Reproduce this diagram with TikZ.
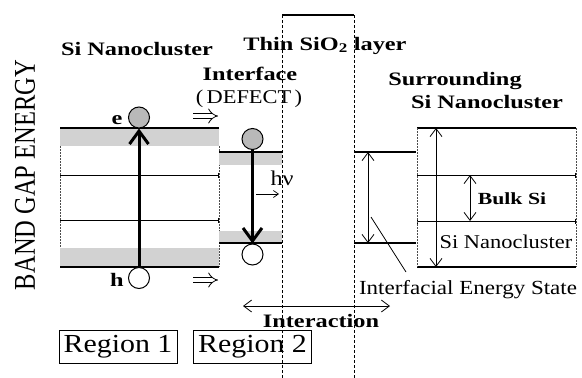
\documentclass[tikz,border=0pt]{standalone}
\usepackage{fontspec}
\setmainfont{Liberation Serif}
\newfontfamily\tbf[FakeStretch=1.28]{Liberation Serif}
\newfontfamily\treg[FakeStretch=1.15]{Liberation Serif}
\usetikzlibrary{arrows.meta}
\begin{document}
\begin{tikzpicture}[x=1pt,y=-1pt,
  title/.style={font=\tbf\bfseries\fontsize{19}{22}\selectfont, inner sep=0pt, anchor=base},
  plain/.style={font=\treg\fontsize{19.5}{22}\selectfont, inner sep=0pt, anchor=base},
  thickline/.style={line width=2pt},
  thinline/.style={line width=0.8pt},
  level/.style={line width=0.8pt, {Bar[width=5pt]}-{Bar[width=5pt]}},
  band/.style={fill=gray!35, draw=none},
  boxedge/.style={line width=0.6pt, black!70, dash pattern=on 1.5pt off 1.5pt},
  oxide/.style={line width=0.7pt, dash pattern=on 3pt off 2pt},
  elec/.style={circle, draw, line width=1pt, fill=gray!55, minimum size=21pt, inner sep=0pt},
  hole/.style={circle, draw, line width=1pt, fill=white, minimum size=21pt, inner sep=0pt},
  trans/.style={line width=3pt, -{Straight Barb[length=13pt,width=19pt]}},
  dimarrow/.style={line width=0.8pt, {Straight Barb[length=8pt,width=12pt]}-{Straight Barb[length=8pt,width=12pt]}},
  implies/.style={double, double distance=4.5pt, line width=0.8pt, -{Implies}},
  regionbox/.style={draw, line width=1pt, minimum width=118pt, minimum height=33pt, inner sep=0pt, font=\treg\fontsize{26}{28}\selectfont}
]
\useasboundingbox (0,0) rectangle (582,378);

% ---- Region 1 (Si nanocluster) ----
\fill[band] (60,128) rectangle (219,146);
\fill[band] (60,248) rectangle (219,267);
\draw[thickline] (60,128) -- (219,128);
\draw[thickline] (60,267) -- (219,267);
\draw[level] (60,175) -- (219,175);
\draw[level] (60,220) -- (219,220);
\draw[boxedge] (60,146) -- (60,248);
\draw[boxedge] (219,146) -- (219,267);

% ---- Region 2 (interface) ----
\fill[band] (219,152) rectangle (282,165);
\fill[band] (219,231) rectangle (282,243);
\draw[thickline] (219,152) -- (282,152);
\draw[thickline] (219,243) -- (282,243);

% ---- SiO2 layer ----
\draw[oxide] (282,378) -- (282,15);
\draw[thickline] (282,15) -- (354,15);
\draw[oxide] (354,15) -- (354,378);

% ---- interfacial energy states ----
\draw[thickline] (354,152) -- (416,152);
\draw[thickline] (354,243) -- (416,243);

% ---- surrounding Si nanocluster ----
\draw[thickline] (417,128) -- (576,128);
\draw[thickline] (417,267) -- (576,267);
\draw[level] (417,175) -- (576,175);
\draw[level] (417,221) -- (576,221);
\draw[boxedge] (417,128) -- (417,267);
\draw[boxedge] (576,128) -- (576,267);

% ---- carriers ----
\node[elec] (e1) at (139,117.5) {};
\node[hole] (h1) at (139,278) {};
\node[elec] (e2) at (252.5,139) {};
\node[hole] (h2) at (252.5,254.5) {};
\draw[trans] (h1.north) -- (e1.south);
\draw[trans] (e2.south) -- (h2.north);

\node[title] (elab) at (117,124) {e};
\node[title] (hlab) at (117,286) {h};

% ---- implies arrows ----
\coordinate (i1s) at (193,116);
\coordinate (i1e) at (218,116);
\coordinate (i2s) at (193,280);
\coordinate (i2e) at (218,280);
\draw[implies] (i1s) -- (i1e);
\draw[implies] (i2s) -- (i2e);

% ---- photon ----
\node[plain, font=\treg\fontsize{21}{24}\selectfont] (hnu) at (282,185) {hν};
\coordinate (pa) at (256,194);
\coordinate (pb) at (279,194);
\draw[line width=0.7pt, -{Straight Barb[length=5pt,width=7pt]}] (pa) -- (pb);

% ---- dimension arrows ----
\coordinate (r1t) at (368,152);
\coordinate (r1b) at (368,243);
\coordinate (r2t) at (436,128);
\coordinate (r2b) at (436,267);
\coordinate (r3t) at (470,175);
\coordinate (r3b) at (470,221);
\draw[dimarrow] (r1t) -- (r1b);
\draw[dimarrow] (r2t) -- (r2b);
\draw[dimarrow] (r3t) -- (r3b);

\coordinate (d1) at (371,217);
\coordinate (d2) at (406,272);
\draw[thinline] (d1) -- (d2);

\coordinate (ia) at (243,306);
\coordinate (ib) at (390,306);
\draw[dimarrow] (ia) -- (ib);

% ---- texts ----
\node[title] (t1) at (137,55) {Si Nanocluster};
\node[title] (t2) at (325,50) {Thin SiO\textsubscript{2} layer};
\node[title] (t3) at (250,80) {Interface};
\node[plain] (t4) at (249,103) {(\,DEFECT\,)};
\node[title] (t5) at (455,85) {Surrounding};
\node[title] (t6) at (487,108) {Si Nanocluster};
\node[title, font=\tbf\bfseries\fontsize{17}{20}\selectfont] (t7) at (512,204) {Bulk Si};
\node[plain] (t8) at (506,248) {Si Nanocluster};
\node[plain, font=\treg\fontsize{20}{22}\selectfont] (t9) at (468,294) {Interfacial Energy State};
\node[title] (t10) at (321,327) {Interaction};

\node[regionbox] (reg1) at (118,346.5) {Region 1};
\node[regionbox] (reg2) at (252.5,346.5) {Region 2};

\node[rotate=90, inner sep=0pt, font=\fontsize{24.5}{26}\selectfont] (bge) at (25,175) {\scalebox{1}[1.23]{BAND GAP ENERGY}};
\end{tikzpicture}
\end{document}
